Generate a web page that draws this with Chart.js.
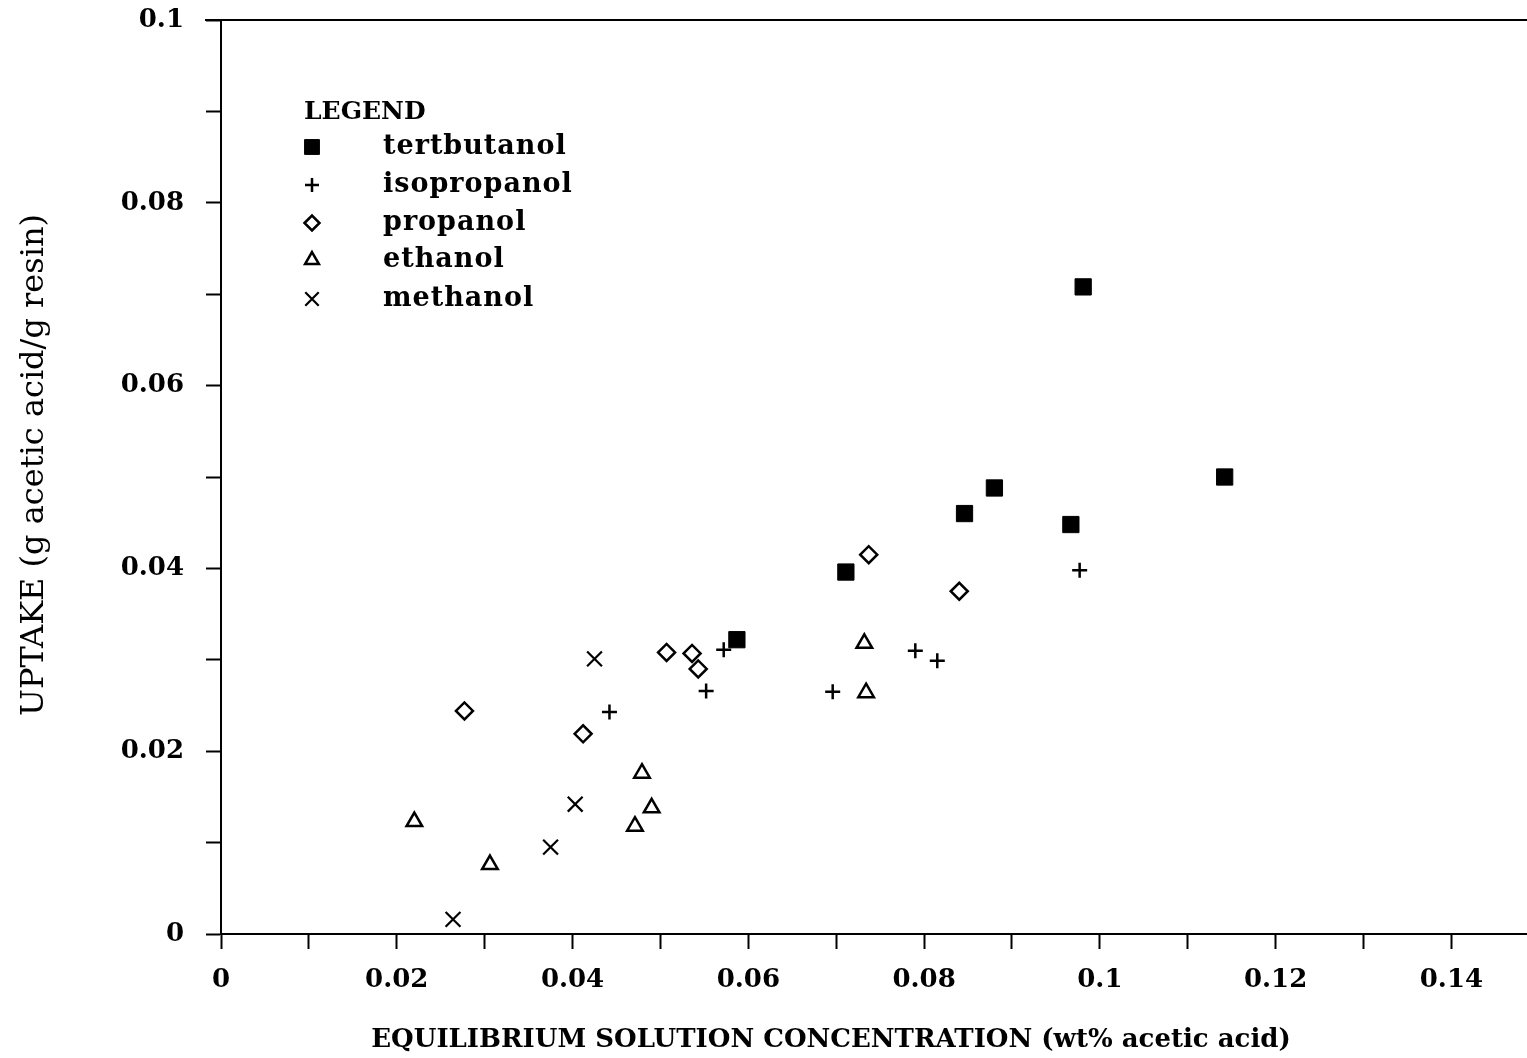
<!DOCTYPE html>
<html>
<head>
<meta charset="utf-8">
<title>Acetic acid uptake by resin</title>
<script src="https://cdn.jsdelivr.net/npm/chart.js@4.4.1/dist/chart.umd.min.js"></script>
<style>
  html, body { margin: 0; padding: 0; background: #fff; }
  #wrap { width: 1527px; height: 1058px; }
</style>
</head>
<body>
<div id="wrap"><canvas id="uptakeChart" width="1527" height="1058"></canvas></div>
<script>
// Uptake of acetic acid on resin vs equilibrium concentration, one series per alcohol

const seriesNames = ['tertbutanol', 'isopropanol', 'propanol', 'ethanol', 'methanol'];

const tertbutanolX = [0.0981, 0.1142, 0.0880, 0.0846, 0.0967, 0.0711, 0.0587];
const tertbutanolY = [0.0708, 0.0500, 0.0488, 0.0460, 0.0448, 0.0396, 0.0322];

const isopropanolX = [0.0977, 0.0790, 0.0815, 0.0696, 0.0572, 0.0552, 0.0442];
const isopropanolY = [0.0398, 0.0310, 0.0299, 0.0265, 0.0311, 0.0266, 0.0243];

const propanolX = [0.0737, 0.0840, 0.0507, 0.0536, 0.0543, 0.0277, 0.0412];
const propanolY = [0.0415, 0.0375, 0.0308, 0.0307, 0.0290, 0.0244, 0.0219];

const ethanolX = [0.0732, 0.0734, 0.0479, 0.0490, 0.0471, 0.0220, 0.0306];
const ethanolY = [0.0318, 0.0264, 0.0176, 0.0138, 0.0118, 0.0123, 0.0076];

const methanolX = [0.0425, 0.0403, 0.0375, 0.0264];
const methanolY = [0.0301, 0.0142, 0.0095, 0.0016];

// axis ranges and tick spacing
const X_MAX = 0.1486;
const Y_MAX = 0.1;
const TICK_STEP = 0.01;

const xTitle = 'EQUILIBRIUM SOLUTION CONCENTRATION (wt% acetic acid)';
const yTitle = 'UPTAKE (g acetic acid/g resin)';

const serifFamily = "'DejaVu Serif', serif";

function toPoints(xs, ys) {
    return xs.map((x, i) => ({ x: x, y: ys[i] }));
}

// only every second tick gets a label: 0, 0.02, 0.04 ...
function everyOtherLabel(value) {
    if (Math.round(value * 100) % 2 !== 0) return '';
    return String(parseFloat(value.toFixed(2)));
}

// keep the plot frame fixed: no extra room for edge labels
function fixScaleSize(scale, size) {
    if (scale.isHorizontal()) {
        scale.height = size;
    } else {
        scale.width = size;
    }
    scale.paddingLeft = 0;
    scale.paddingRight = 0;
    scale.paddingTop = 0;
    scale.paddingBottom = 0;
}

const markerStyles = [
    { pointStyle: 'rect', radius: 11.5, legendRadius: 10.5, fill: '#000', width: 1 },
    { pointStyle: 'cross', radius: 7.5, legendRadius: 7, fill: '#fff', width: 2.5 },
    { pointStyle: 'rectRot', radius: 8.5, legendRadius: 7.5, fill: '#fff', width: 2.5 },
    { pointStyle: 'triangle', radius: 9, legendRadius: 8, fill: '#fff', width: 2.5 },
    { pointStyle: 'crossRot', radius: 10.5, legendRadius: 9.5, fill: '#fff', width: 2.2 }
];

const seriesData = [
    toPoints(tertbutanolX, tertbutanolY),
    toPoints(isopropanolX, isopropanolY),
    toPoints(propanolX, propanolY),
    toPoints(ethanolX, ethanolY),
    toPoints(methanolX, methanolY)
];

const datasets = seriesNames.map((name, i) => ({
    label: name,
    data: seriesData[i],
    pointStyle: markerStyles[i].pointStyle,
    pointRadius: markerStyles[i].radius,
    pointBorderWidth: markerStyles[i].width,
    pointBackgroundColor: markerStyles[i].fill,
    pointBorderColor: '#000',
    showLine: false
}));

// top frame line, axis titles and the legend block inside the plot
const decorations = {
    id: 'decorations',
    afterDraw(chart) {
        const ctx = chart.ctx;
        const area = chart.chartArea;
        ctx.save();

        ctx.strokeStyle = '#000';
        ctx.lineWidth = 2;
        ctx.beginPath();
        ctx.moveTo(area.left - 16, area.top);
        ctx.lineTo(area.right, area.top);
        ctx.stroke();

        ctx.fillStyle = '#000';
        ctx.font = "bold 26px " + serifFamily;
        ctx.textAlign = 'center';
        ctx.textBaseline = 'alphabetic';
        ctx.fillText(xTitle, 831, 1047);

        ctx.save();
        ctx.translate(43, 465);
        ctx.rotate(-Math.PI / 2);
        ctx.font = "32px " + serifFamily;
        ctx.fillText(yTitle, 0, 0);
        ctx.restore();

        // legend block
        ctx.textAlign = 'left';
        ctx.textBaseline = 'middle';
        ctx.font = "bold 25px " + serifFamily;
        ctx.fillText('LEGEND', 304, 112);

        ctx.font = "bold 27px " + serifFamily;
        ctx.letterSpacing = '1px';
        const rowY = [147, 185, 223, 260, 299];
        chart.data.datasets.forEach((ds, i) => {
            ctx.fillStyle = ds.pointBackgroundColor;
            ctx.strokeStyle = ds.pointBorderColor;
            ctx.lineWidth = ds.pointBorderWidth;
            Chart.helpers.drawPoint(ctx, {
                pointStyle: ds.pointStyle,
                radius: markerStyles[i].legendRadius,
                borderWidth: ds.pointBorderWidth,
                rotation: 0
            }, 312, rowY[i]);
            ctx.fillStyle = '#000';
            ctx.fillText(ds.label, 383, rowY[i]);
        });

        ctx.restore();
    }
};

const tickFont = { family: serifFamily, size: 26, weight: 'bold' };

new Chart(document.getElementById('uptakeChart'), {
    type: 'scatter',
    data: { datasets },
    options: {
        responsive: false,
        devicePixelRatio: 1,
        animation: false,
        layout: {
            autoPadding: false,
            padding: { top: 20, right: 0, left: 0, bottom: 0 }
        },
        plugins: {
            legend: { display: false },
            tooltip: { enabled: false }
        },
        scales: {
            x: {
                type: 'linear',
                min: 0,
                max: X_MAX,
                ticks: {
                    stepSize: TICK_STEP,
                    includeBounds: false,
                    autoSkip: false,
                    maxRotation: 0,
                    color: '#000',
                    font: tickFont,
                    padding: 16,
                    callback: everyOtherLabel
                },
                grid: {
                    drawOnChartArea: false,
                    tickLength: 15,
                    tickWidth: 2,
                    tickColor: '#000'
                },
                border: { display: true, color: '#000', width: 2 },
                afterFit(scale) { fixScaleSize(scale, 124); }
            },
            y: {
                type: 'linear',
                min: 0,
                max: Y_MAX,
                ticks: {
                    stepSize: TICK_STEP,
                    includeBounds: false,
                    autoSkip: false,
                    color: '#000',
                    font: tickFont,
                    padding: 22,
                    callback: everyOtherLabel
                },
                grid: {
                    drawOnChartArea: false,
                    tickLength: 15,
                    tickWidth: 2,
                    tickColor: '#000'
                },
                border: { display: true, color: '#000', width: 2 },
                afterFit(scale) { fixScaleSize(scale, 221); }
            }
        }
    },
    plugins: [decorations]
});
</script>
</body>
</html>
